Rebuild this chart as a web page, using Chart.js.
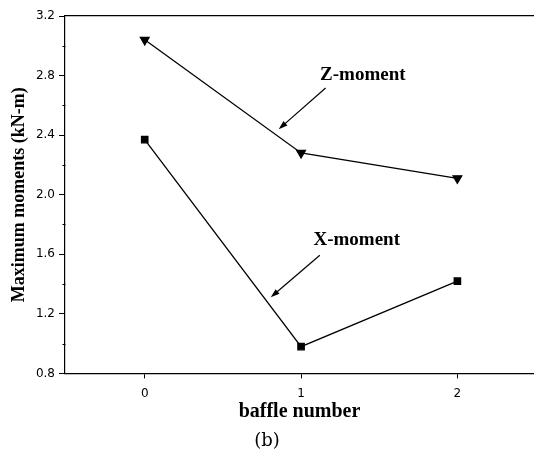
<!DOCTYPE html>
<html>
<head>
<meta charset="utf-8">
<script src="https://cdn.jsdelivr.net/npm/chart.js@4"></script>
<style>
html,body{margin:0;padding:0;background:#fff;}
#wrap{width:534px;height:452px;}
</style>
</head>
<body>
<div id="wrap"><canvas id="c" width="534" height="452"></canvas></div>
<script>
// ---- data ----
const categories = [0, 1, 2];
const zMoment = [3.04, 2.28, 2.11];
const xMoment = [2.37, 0.98, 1.42];
const xTicks = [0, 1, 2];
const yMajorTicks = [0.8, 1.2, 1.6, 2.0, 2.4, 2.8, 3.2];
const yMinorTicks = [1.0, 1.4, 1.8, 2.2, 2.6, 3.0];
const seriesNames = ['Z-moment', 'X-moment'];

// annotation anchors (data coordinates)
const annotations = [
  { text: 'Z-moment', x: 1.395, y: 2.80, from: [1.157, 2.716], to: [0.857, 2.44] },
  { text: 'X-moment', x: 1.356, y: 1.694, from: [1.12, 1.593], to: [0.806, 1.311] }
];

const SERIF = '"Liberation Serif", "Times New Roman", serif';

const overlay = {
  id: 'overlay',
  afterDraw(chart) {
    const { ctx, scales: { x, y } } = chart;
    ctx.save();
    ctx.strokeStyle = '#000';
    ctx.fillStyle = '#000';
    ctx.lineWidth = 1;
    // minor ticks
    const ax = Math.round(y.right) + 0.5;
    yMinorTicks.forEach(v => {
      const py = Math.round(y.getPixelForValue(v)) + 0.5;
      ctx.beginPath(); ctx.moveTo(ax - 3, py); ctx.lineTo(ax, py); ctx.stroke();
    });
    // annotations
    ctx.font = 'bold 19px ' + SERIF;
    ctx.textAlign = 'center';
    ctx.textBaseline = 'middle';
    annotations.forEach(a => {
      ctx.fillText(a.text, x.getPixelForValue(a.x), y.getPixelForValue(a.y));
      const x1 = x.getPixelForValue(a.from[0]), y1 = y.getPixelForValue(a.from[1]);
      const x2 = x.getPixelForValue(a.to[0]), y2 = y.getPixelForValue(a.to[1]);
      const ang = Math.atan2(y2 - y1, x2 - x1);
      const L = 9, W = 3;
      ctx.lineWidth = 1.2;
      ctx.beginPath(); ctx.moveTo(x1, y1);
      ctx.lineTo(x2 - Math.cos(ang) * L * 0.6, y2 - Math.sin(ang) * L * 0.6); ctx.stroke();
      ctx.beginPath();
      ctx.moveTo(x2, y2);
      ctx.lineTo(x2 - Math.cos(ang) * L - Math.sin(ang) * W, y2 - Math.sin(ang) * L + Math.cos(ang) * W);
      ctx.lineTo(x2 - Math.cos(ang) * L + Math.sin(ang) * W, y2 - Math.sin(ang) * L - Math.cos(ang) * W);
      ctx.closePath(); ctx.fill();
    });
    ctx.restore();
  }
};

const noPad = s => { s.paddingLeft = 0; s.paddingRight = 0; };

new Chart(document.getElementById('c'), {
  type: 'scatter',
  data: {
    datasets: [
      {
        label: seriesNames[0],
        data: categories.map((c, i) => ({ x: c, y: zMoment[i] })),
        showLine: true,
        borderColor: '#000',
        backgroundColor: '#000',
        borderWidth: 1.3,
        pointStyle: 'triangle',
        rotation: 180,
        pointRadius: 5,
        pointHoverRadius: 5
      },
      {
        label: seriesNames[1],
        data: categories.map((c, i) => ({ x: c, y: xMoment[i] })),
        showLine: true,
        borderColor: '#000',
        backgroundColor: '#000',
        borderWidth: 1.3,
        pointStyle: 'rect',
        pointRadius: 4.5,
        pointHoverRadius: 4.5
      }
    ]
  },
  options: {
    responsive: false,
    animation: false,
    layout: { autoPadding: false, padding: { left: 0, right: 0, top: 16, bottom: 0 } },
    plugins: {
      legend: { display: false },
      tooltip: { enabled: false },
      title: {
        display: true,
        position: 'bottom',
        text: '(b)',
        color: '#000',
        font: { family: '"DejaVu Serif", serif', size: 18, weight: 'normal' },
        padding: { top: 0, bottom: 0 }
      }
    },
    scales: {
      x: {
        type: 'linear',
        position: 'bottom',
        min: -0.51,
        max: 2.49,
        afterBuildTicks: s => { s.ticks = xTicks.map(v => ({ value: v })); },
        afterFit: s => { s.height = 57; noPad(s); },
        ticks: { color: '#000', font: { family: '"DejaVu Sans"', size: 12 }, padding: 8 },
        grid: { display: true, drawOnChartArea: false, tickLength: 5, tickColor: '#000', tickWidth: 1 },
        border: { display: true, color: '#000', width: 1.2 },
        title: {
          display: true, text: 'baffle number', color: '#000',
          font: { family: SERIF, size: 20, weight: 'bold' },
          padding: { top: 0, bottom: 7 }
        }
      },
      x2: {
        type: 'linear',
        position: 'top',
        min: -0.51,
        max: 2.49,
        afterFit: s => { s.height = 0; noPad(s); },
        ticks: { display: false },
        grid: { display: false },
        border: { display: true, color: '#000', width: 1.2 }
      },
      y: {
        type: 'linear',
        position: 'left',
        min: 0.8,
        max: 3.2,
        afterBuildTicks: s => { s.ticks = yMajorTicks.map(v => ({ value: v })); },
        afterFit: s => { s.width = 65; },
        ticks: { color: '#000', font: { family: '"DejaVu Sans"', size: 12 }, padding: 4,
                 callback: v => v.toFixed(1) },
        grid: { display: true, drawOnChartArea: false, tickLength: 6, tickColor: '#000', tickWidth: 1 },
        border: { display: true, color: '#000', width: 1.2 },
        title: {
          display: true, text: 'Maximum moments (kN-m)', color: '#000',
          font: { family: SERIF, size: 18, weight: 'bold' },
          padding: { top: 9, bottom: 0 }
        }
      }
    }
  },
  plugins: [overlay]
});
</script>
</body>
</html>
